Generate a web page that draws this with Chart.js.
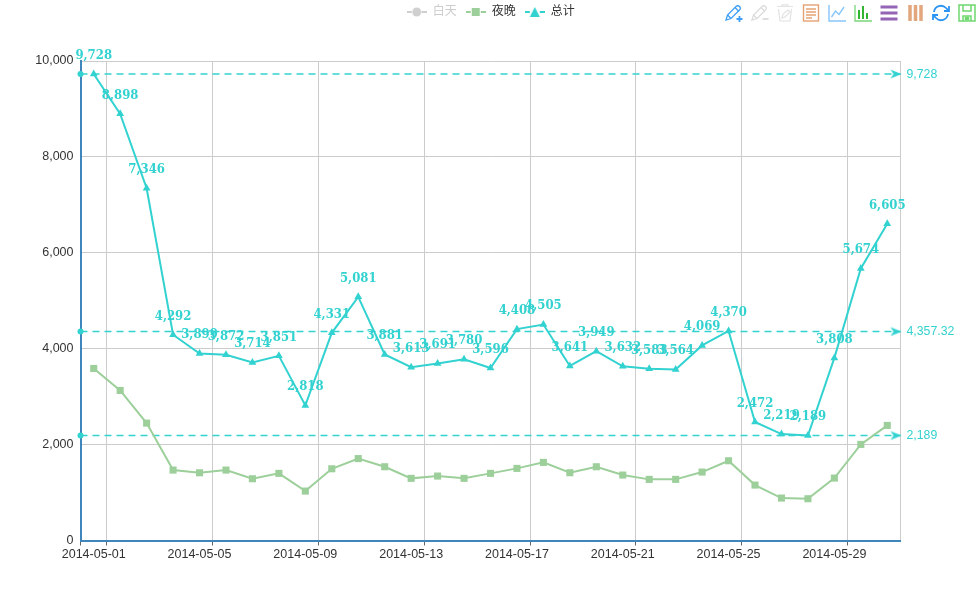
<!DOCTYPE html>
<html>
<head>
<meta charset="utf-8">
<style>
html,body{margin:0;padding:0;background:#fff;width:980px;height:600px;overflow:hidden}
#wrap{position:relative;width:980px;height:600px}
canvas{position:absolute;left:0;top:0}
svg.tool{position:absolute;top:4px;width:18px;height:18px;fill:none}
</style>
<script src="https://cdn.jsdelivr.net/npm/chart.js@4"></script>
</head>
<body>
<div id="wrap">
<canvas id="c" width="980" height="600"></canvas>
<svg class="tool" style="left:725px" viewBox="0 0 18 18" stroke="#3f9ff5" stroke-width="1.3"><path d="M1 16l1.5-5L11 2.5c1-1 2.500-1 3.500 0s1 2.500 0 3.500L6 14.500z"/><path d="M2.500 11L6 14.500M10 3.500l4 4"/><path d="M11.500 15h6M14.500 12v6" stroke-width="1.800"/></svg>
<svg class="tool" style="left:751px" viewBox="0 0 18 18" stroke="#dcdcdc" stroke-width="1.300"><path d="M1 16l1.500-5L11 2.500c1-1 2.500-1 3.500 0s1 2.500 0 3.500L6 14.500z"/><path d="M2.500 11L6 14.500M10 3.500l4 4"/><path d="M11.500 15h6" stroke-width="1.800"/></svg>
<svg class="tool" style="left:776px" viewBox="0 0 18 18" stroke="#e2e2e2" stroke-width="1.200"><path d="M1 2.500h16M6 2.500V.8h6v1.700M2.500 5l1.500 12h10l1.500-12"/><path d="M6 14l1-4 5-4 2 2-5 5z"/></svg>
<svg class="tool" style="left:802px" viewBox="0 0 18 18" stroke="#e5a274" stroke-width="1.400"><rect x="1.500" y="1" width="15" height="16"/><path d="M4 5h10M4 8h10M4 11h10M4 14h6"/></svg>
<svg class="tool" style="left:828px" viewBox="0 0 18 18" stroke="#87c5fa" stroke-width="1.400"><path d="M1 1v16h17"/><path d="M3.500 13l4-6 3.500 3.500L16 3"/></svg>
<svg class="tool" style="left:854px" viewBox="0 0 18 18" stroke="#79d679" stroke-width="1.300"><path d="M1 1v16h17"/><path d="M5 15V6M9 15V2M13 15V9" stroke="#32b532" stroke-width="2"/></svg>
<svg class="tool" style="left:880px" viewBox="0 0 18 18" stroke="#9465b5" stroke-width="3"><path d="M0.500 3h17M0.500 9h17M0.500 15h17"/></svg>
<svg class="tool" style="left:906px" viewBox="0 0 18 18" stroke="#e2a77d" stroke-width="3.500"><path d="M4 1v16M9.500 1v16M15 1v16"/></svg>
<svg class="tool" style="left:932px" viewBox="0 0 18 18" stroke="#2a94f4" stroke-width="1.800"><path d="M2 8a7 7 0 0 1 12-4l2.500 2.500M16 10a7 7 0 0 1-12 4l-2.500-2.500"/><path d="M17 2v5h-5M1 16v-5h5"/></svg>
<svg class="tool" style="left:958px" viewBox="0 0 18 18" stroke="#6fd86f" stroke-width="1.500"><path d="M1 1h16v16H1z"/><path d="M5 1v6h8V1M5 17v-5h8v5"/><rect x="7.500" y="13.500" width="3" height="2" fill="#6fd86f"/></svg>
</div>
<script>
const categories = ['2014-05-01','2014-05-02','2014-05-03','2014-05-04','2014-05-05','2014-05-06','2014-05-07','2014-05-08','2014-05-09','2014-05-10','2014-05-11','2014-05-12','2014-05-13','2014-05-14','2014-05-15','2014-05-16','2014-05-17','2014-05-18','2014-05-19','2014-05-20','2014-05-21','2014-05-22','2014-05-23','2014-05-24','2014-05-25','2014-05-26','2014-05-27','2014-05-28','2014-05-29','2014-05-30','2014-05-31'];
const dayValues = []; // series is switched off in the reference, no values visible
const nightValues = [3587,3129,2448,1469,1412,1469,1288,1400,1031,1496,1708,1538,1296,1344,1296,1400,1504,1629,1413,1538,1365,1275,1275,1427,1663,1156,885,871,1302,2004,2400];
const totalValues = [9728,8898,7346,4292,3899,3872,3714,3851,2818,4331,5081,3881,3613,3691,3780,3596,4408,4505,3641,3949,3632,3583,3564,4069,4370,2472,2219,2189,3808,5674,6605];
const markValues = [9728,4357.32,2189];
const markLabels = ['9,728','4,357.32','2,189'];
const seriesNames = ['白天','夜晚','总计'];

const CYAN = '#32d2d0', GREEN = '#9ccf9a', GREY = '#cfcfcf', BLUE = '#3f86bd';
const SANS = '"Liberation Sans","Noto Sans CJK SC",sans-serif';

function icon(color, shape){
  const c = document.createElement('canvas'); c.width = 20; c.height = 14;
  const g = c.getContext('2d');
  g.strokeStyle = color; g.fillStyle = color; g.lineWidth = 2;
  g.beginPath(); g.moveTo(0,7); g.lineTo(20,7); g.stroke();
  g.fillStyle = '#fff'; g.fillRect(5,0,10,14); g.fillStyle = color;
  g.beginPath();
  if(shape==='circle') g.arc(10,7,4.500,0,Math.PI*2);
  if(shape==='rect') g.rect(6,3,8,8);
  if(shape==='triangle'){g.moveTo(10,2);g.lineTo(15,12);g.lineTo(5,12);g.closePath();}
  g.fill();
  return c;
}
function arrowIcon(){
  const c = document.createElement('canvas'); c.width = 26; c.height = 14;
  const g = c.getContext('2d');
  g.fillStyle = CYAN; g.beginPath();
  g.moveTo(14,7); g.lineTo(3,2.500); g.lineTo(6,7); g.lineTo(3,11.500); g.closePath(); g.fill();
  return c;
}
const arrow = arrowIcon();
const legendIcons = [icon(GREY,'circle'), icon(GREEN,'rect'), icon(CYAN,'triangle')];

const markDatasets = markValues.map(v => ({
  type:'line', xAxisID:'x2', yAxisID:'y', isMark:true,
  data:[{x:0,y:v},{x:1,y:v}],
  borderColor:CYAN, backgroundColor:CYAN, borderWidth:1.5, borderDash:[7,5],
  pointStyle:['circle',arrow], pointRadius:[3,7], pointBackgroundColor:CYAN, pointBorderWidth:0,
  clip:false, tension:0
}));

const labelPlugin = {
  id:'labelPlugin',
  afterLayout(chart){ const l = chart.legend; l.top -= 33; l.bottom -= 33; l.left += 40.5; l.right += 40.5; },
  afterDatasetsDraw(chart){
    const g = chart.ctx; g.save();
    g.fillStyle = CYAN; g.textAlign='center'; g.textBaseline='middle';
    g.font = 'bold 13px "DejaVu Serif Condensed","DejaVu Serif",serif';
    const meta = chart.getDatasetMeta(2);
    meta.data.forEach((p,i)=>{ g.fillText(totalValues[i].toLocaleString('en-US'), p.x, p.y-18.5); });
    g.font = '12.3px '+SANS; g.textAlign='left';
    markValues.forEach((v,i)=>{ g.fillText(markLabels[i], chart.scales.x2.getPixelForValue(1)+6, chart.scales.y.getPixelForValue(v)+0.5); });
    g.restore();
  }
};

new Chart(document.getElementById('c'),{
  type:'line',
  data:{labels:categories,datasets:[
    {label:seriesNames[0],data:dayValues,hidden:true,borderColor:GREY,backgroundColor:GREY},
    {label:seriesNames[1],data:nightValues,borderColor:GREEN,backgroundColor:GREEN,borderWidth:2,pointStyle:'rect',pointRadius:5,pointBorderWidth:0,tension:0,clip:false},
    {label:seriesNames[2],data:totalValues,borderColor:CYAN,backgroundColor:CYAN,borderWidth:2,pointStyle:'triangle',pointRadius:4.5,pointBorderWidth:0,tension:0,clip:false},
    ...markDatasets
  ]},
  plugins:[labelPlugin],
  options:{
    responsive:false, animation:false, devicePixelRatio:1,
    layout:{padding:{top:30,right:79.5,left:0,bottom:0}},
    plugins:{
      tooltip:{enabled:false},
      legend:{display:true,position:'top',align:'center',
        labels:{usePointStyle:true,pointStyleWidth:20,boxHeight:12,padding:9,font:{size:12,family:SANS},
          generateLabels(){ return seriesNames.map((t,i)=>({text:t,fontColor:i===0?'#cccccc':'#333333',pointStyle:legendIcons[i],hidden:false,datasetIndex:i,lineWidth:0,strokeStyle:'transparent',fillStyle:'transparent'})); }
        }
      }
    },
    scales:{
      x:{type:'category',offset:true,
        afterFit(s){s.height=59.5;},
        border:{color:BLUE,width:2},
        grid:{offset:true,drawOnChartArea:true,
          color:c=>(c.index===undefined||c.index%4===1)?'#cccccc':'rgba(0,0,0,0)',
          tickColor:c=>(c.index===0||c.index%4===1)?'#666666':'rgba(0,0,0,0)',
          tickLength:5,lineWidth:1},
        ticks:{autoSkip:false,maxRotation:0,minRotation:0,color:'#333',padding:2,font:{size:12.5,family:SANS},
          callback(v,i){return i%4===0?categories[i]:'';}}
      },
      x2:{type:'linear',min:0,max:1,display:false},
      y:{type:'linear',min:0,max:10000,
        afterFit(s){s.width=80.5;},
        border:{color:BLUE,width:2},
        grid:{color:'#cccccc',lineWidth:1,drawTicks:false},
        ticks:{stepSize:2000,color:'#333',padding:7,font:{size:12.5,family:SANS},callback:v=>v.toLocaleString('en-US')}
      }
    }
  }
});
</script>
</body>
</html>
